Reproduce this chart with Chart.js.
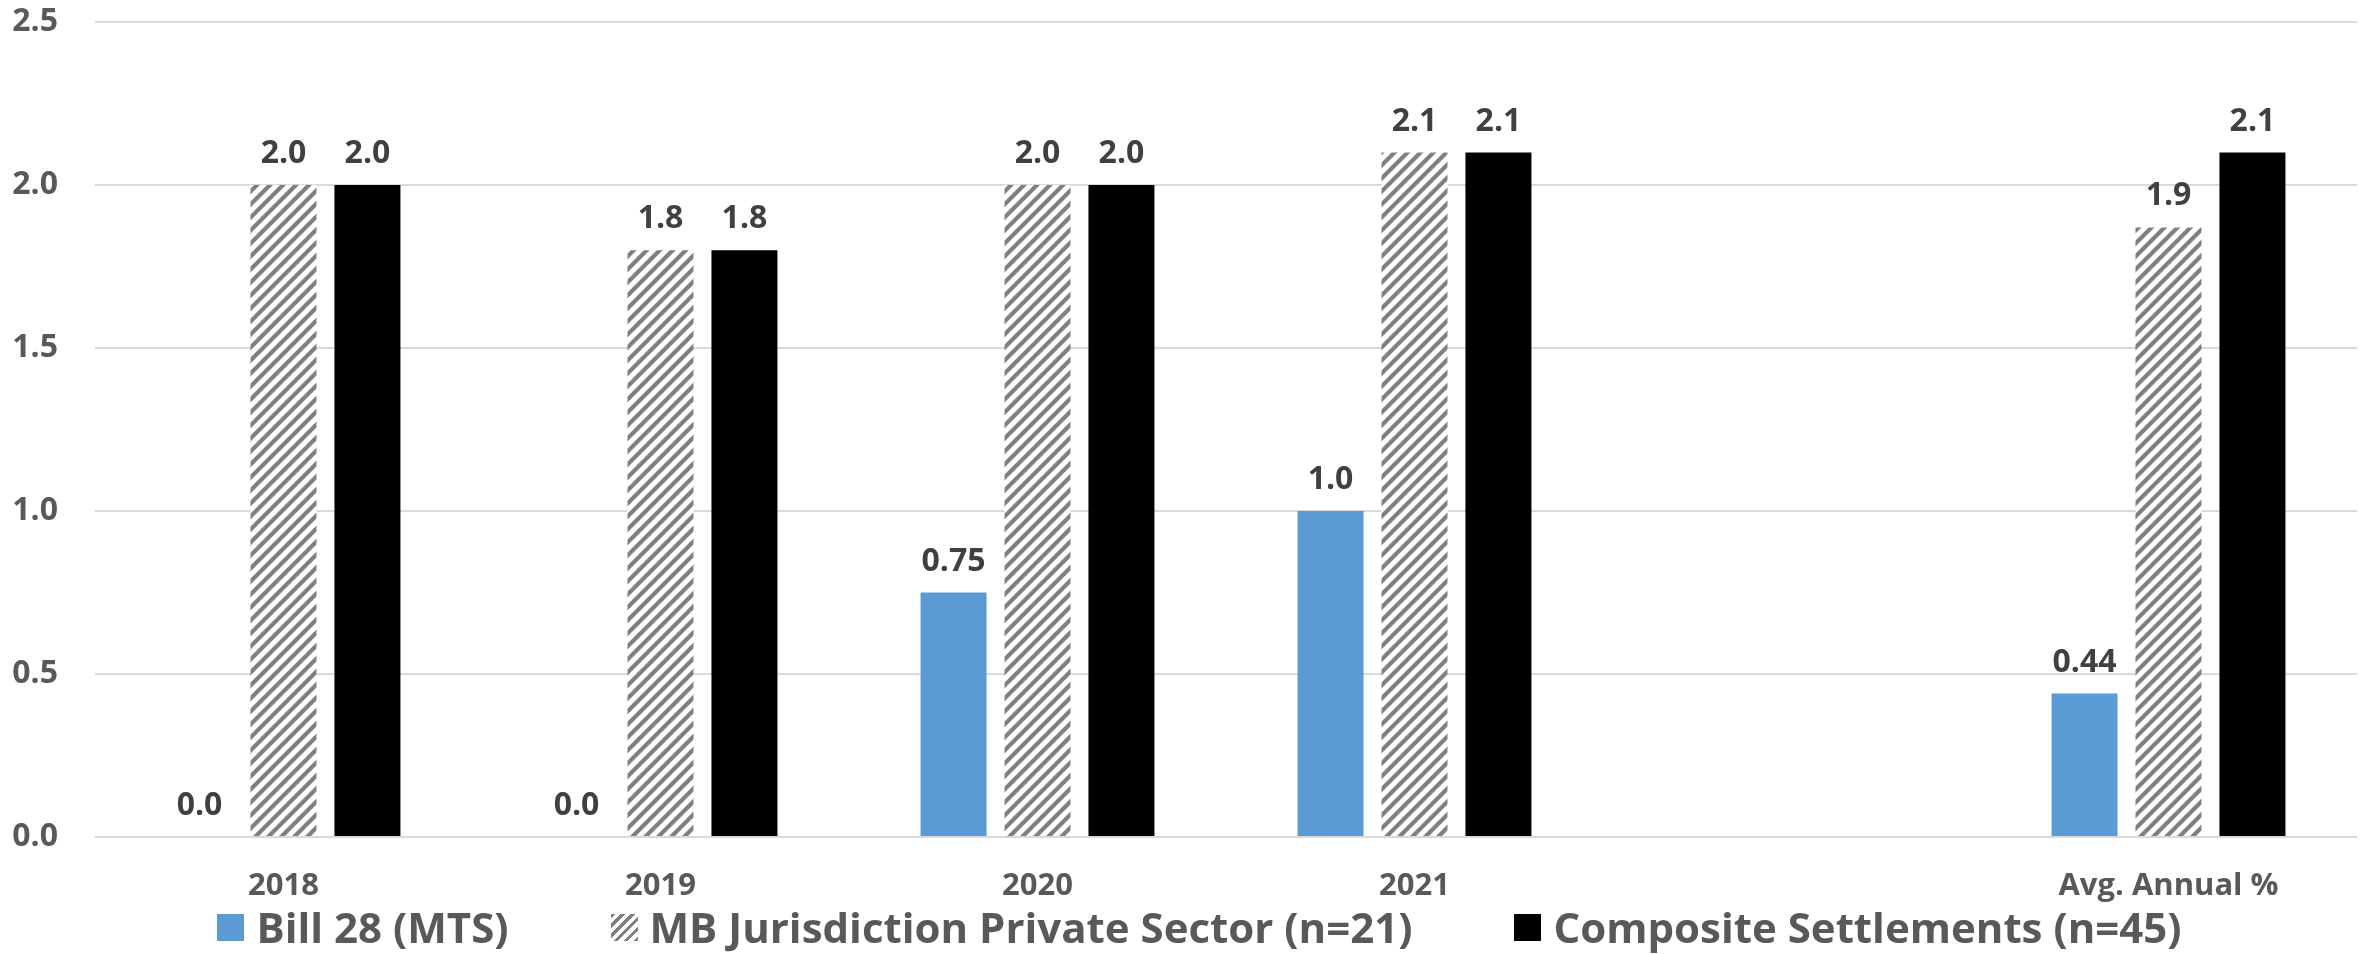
<!DOCTYPE html>
<html>
<head>
<meta charset="utf-8">
<script src="https://cdn.jsdelivr.net/npm/chart.js@4.4.0/dist/chart.umd.min.js"></script>
<style>
  html, body { margin: 0; padding: 0; background: #fff; }
  #wrap { position: relative; width: 2369px; height: 954px; }
  #legend {
    position: absolute; left: 15px; top: 899px; width: 2369px;
    display: flex; justify-content: center; align-items: center;
    font: bold 42px "Open Sans", sans-serif; color: #595959; line-height: 56px;
  }
  .item { display: flex; align-items: center; margin: 0 51px; }
  .box { width: 27px; height: 27px; margin-right: 12px; }
</style>
</head>
<body>
<div id="wrap">
  <canvas id="chart" width="2369" height="954"></canvas>
  <div id="legend"></div>
</div>
<script>
// -------------------- Data --------------------
const categories = ["2018", "2019", "2020", "2021", "", "Avg. Annual %"];
const seriesNames = ["Bill 28 (MTS)", "MB Jurisdiction Private Sector (n=21)", "Composite Settlements (n=45)"];
const bill28 = [0, 0, 0.75, 1.0, null, 0.44];
const mbPrivate = [2.0, 1.8, 2.0, 2.1, null, 1.87];
const composite = [2.0, 1.8, 2.0, 2.1, null, 2.1];
const bill28Labels = ["0.0", "0.0", "0.75", "1.0", "", "0.44"];
const mbPrivateLabels = ["2.0", "1.8", "2.0", "2.1", "", "1.9"];
const compositeLabels = ["2.0", "1.8", "2.0", "2.1", "", "2.1"];
const yTicks = [0, 0.5, 1.0, 1.5, 2.0, 2.5];

const FONT = '"Open Sans", sans-serif';

// diagonal hatch fill
function hatchPattern() {
    const s = 13;
    const c = document.createElement("canvas");
    c.width = c.height = s;
    const g = c.getContext("2d");
    g.fillStyle = "#fff";
    g.fillRect(0, 0, s, s);
    g.strokeStyle = "#808080";
    g.lineWidth = 4.2;
    g.beginPath();
    g.moveTo(0, s); g.lineTo(s, 0);
    g.moveTo(-s / 2, s / 2); g.lineTo(s / 2, -s / 2);
    g.moveTo(s / 2, s * 1.5); g.lineTo(s * 1.5, s / 2);
    g.stroke();
    return g.createPattern(c, "repeat");
}

// -------------------- Value labels --------------------
const valueLabels = {
    id: "valueLabels",
    afterDatasetsDraw(chart) {
        const ctx = chart.ctx;
        ctx.save();
        ctx.font = "bold 32px " + FONT;
        ctx.fillStyle = "#404040";
        ctx.textAlign = "center";
        ctx.textBaseline = "bottom";
        chart.data.datasets.forEach((ds, i) => {
            const meta = chart.getDatasetMeta(i);
            meta.data.forEach((bar, j) => {
                const txt = ds.valueLabels[j];
                if (!txt || ds.data[j] === null) return;
                ctx.fillText(txt, bar.x, bar.y - 15);
            });
        });
        ctx.restore();
    }
};

const hatch = hatchPattern();
const colors = ["#5B9BD5", hatch, "#000000"];

new Chart(document.getElementById("chart").getContext("2d"), {
    type: "bar",
    data: {
        labels: categories,
        datasets: [
            { label: seriesNames[0], data: bill28, valueLabels: bill28Labels, backgroundColor: colors[0] },
            { label: seriesNames[1], data: mbPrivate, valueLabels: mbPrivateLabels, backgroundColor: colors[1] },
            { label: seriesNames[2], data: composite, valueLabels: compositeLabels, backgroundColor: colors[2] }
        ]
    },
    options: {
        responsive: false,
        animation: false,
        layout: { padding: { left: 12, right: 12, top: 22, bottom: 0 } },
        datasets: { bar: { categoryPercentage: 0.668, barPercentage: 0.786 } },
        plugins: { legend: { display: false }, tooltip: { enabled: false } },
        scales: {
            x: {
                grid: { display: false, drawTicks: false },
                border: { display: false },
                ticks: { color: "#595959", font: { family: FONT, size: 31, weight: "bold" }, padding: 31 },
                afterFit: axis => { axis.height = 117; axis.paddingLeft = 0; axis.paddingRight = 0; }
            },
            y: {
                min: 0, max: 2.5,
                afterBuildTicks: axis => { axis.ticks = yTicks.map(v => ({ value: v })); },
                grid: { color: "#d9d9d9", lineWidth: 2, drawTicks: false },
                border: { display: false },
                ticks: {
                    color: "#595959", font: { family: FONT, size: 32, weight: "bold" }, padding: 37,
                    callback: v => v.toFixed(1)
                },
                afterFit: axis => { axis.width = 83; axis.paddingTop = 0; axis.paddingBottom = 0; }
            }
        }
    },
    plugins: [valueLabels]
});

// -------------------- Legend --------------------
const legend = document.getElementById("legend");
const boxCss = [
    "background:#5B9BD5",
    "background:repeating-linear-gradient(135deg,#808080 0 3px,#fff 3px 7px)",
    "background:#000"
];
seriesNames.forEach((name, i) => {
    legend.innerHTML += `<div class="item"><span class="box" style="${boxCss[i]}"></span><span>${name}</span></div>`;
});
</script>
</body>
</html>
